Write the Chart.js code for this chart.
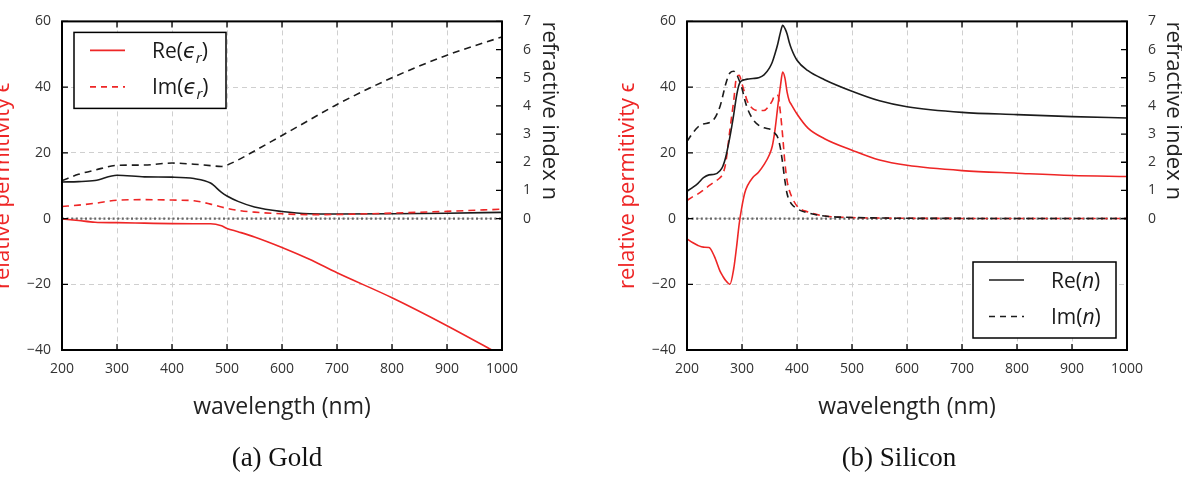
<!DOCTYPE html>
<html>
<head>
<meta charset="utf-8">
<script src="https://cdn.jsdelivr.net/npm/chart.js@4.4.1/dist/chart.umd.min.js"></script>
<style>
html, body { margin: 0; padding: 0; background: #fff; overflow: hidden; width: 1182px; height: 483px; }
canvas { position: absolute; top: 0; }
.cap { position: absolute; top: 442px; width: 300px; text-align: center; font: 27px 'Liberation Serif', serif; color: #111; }
</style>
</head>
<body>
<canvas id="gold" width="560" height="483" style="left:0"></canvas>
<canvas id="silicon" width="582" height="483" style="left:600px"></canvas>
<div class="cap" style="left:127px">(a) Gold</div>
<div class="cap" style="left:749px">(b) Silicon</div>
<script>
// gold (wavelength in nm)
var goldWl     = [200, 230, 260, 300, 350, 400, 440, 470, 490, 500, 520, 550, 600, 650, 700, 800, 900, 1000];
var goldReN    = [1.30, 1.31, 1.35, 1.54, 1.48, 1.47, 1.42, 1.26, 0.93, 0.80, 0.61, 0.41, 0.25, 0.17, 0.16, 0.17, 0.19, 0.22];
var goldImN    = [1.35, 1.57, 1.72, 1.89, 1.90, 1.97, 1.93, 1.88, 1.85, 1.90, 2.08, 2.40, 2.95, 3.50, 4.05, 5.00, 5.80, 6.45];
var goldReEps  = [-0.1, -0.6, -1.1, -1.25, -1.4, -1.55, -1.6, -1.6, -2.2, -3.0, -4.0, -5.6, -8.8, -12.4, -16.5, -24.1, -32.6, -41.7];
var goldImEps  = [3.66, 4.1, 4.64, 5.6, 5.75, 5.63, 5.4, 4.4, 3.5, 3.1, 2.5, 1.95, 1.45, 1.2, 1.25, 1.65, 2.2, 2.85];

// silicon
var siWl    = [200, 210, 220, 230, 240, 250, 260, 265, 270, 278, 285, 290, 295, 300, 305, 310, 320, 330, 340, 350,
               355, 360, 365, 370, 374, 378, 382, 386, 390, 400, 420, 450, 500, 550, 600, 700, 800, 900, 1000];
var siReN   = [0.97, 1.10, 1.25, 1.45, 1.55, 1.57, 1.70, 1.85, 2.15, 2.90, 3.70, 4.35, 4.78, 4.90, 4.93, 4.95, 4.97, 5.00, 5.10, 5.35,
               5.55, 5.85, 6.20, 6.62, 6.86, 6.75, 6.55, 6.25, 6.02, 5.62, 5.25, 4.93, 4.52, 4.18, 3.97, 3.77, 3.69, 3.62, 3.57];
var siImN   = [2.74, 3.02, 3.25, 3.36, 3.40, 3.55, 3.98, 4.35, 4.75, 5.17, 5.23, 5.12, 4.90, 4.62, 4.22, 3.90, 3.52, 3.32, 3.22, 3.18,
               3.14, 3.02, 2.88, 2.48, 1.95, 1.35, 0.88, 0.65, 0.52, 0.35, 0.20, 0.09, 0.04, 0.02, 0.01, 0.005, 0.003, 0.002, 0.001];
var siReEps = [-6.2, -7.3, -8.2, -8.7, -8.8, -11.6, -16.0, -17.5, -18.8, -20.0, -15.2, -8.8, -1.5, 3.8, 7.8, 10.0, 12.6, 14.1, 16.4, 19.5,
               22.0, 27.0, 34.0, 40.5, 44.6, 42.8, 38.5, 35.8, 34.6, 31.8, 27.5, 24.3, 20.8, 17.8, 16.2, 14.6, 13.8, 13.1, 12.8];
var siImEps = [5.5, 6.6, 7.5, 8.7, 10.0, 11.2, 12.4, 13.6, 16.5, 27.0, 36.0, 43.0, 43.6, 41.0, 38.2, 35.6, 33.4, 32.9, 32.9, 34.5,
               35.8, 37.6, 37.5, 32.0, 25.0, 17.0, 11.5, 8.6, 6.8, 3.8, 2.0, 0.8, 0.3, 0.15, 0.08, 0.04, 0.03, 0.02, 0.01];

var xTicks = { min: 200, max: 1000, step: 100 };
var epsRange = [-40, 60];
var nTop = 7;

var RED = '#ee2626';
var BLACK = '#1c1c1c';
Chart.defaults.font.family = "'Open Sans', sans-serif";

function pts(wl, vals) {
    return wl.map(function (w, i) { return { x: w, y: vals[i] }; });
}

function series(wl, vals, color, dashed, axis, legend) {
    return {
        data: pts(wl, vals),
        yAxisID: axis,
        borderColor: color,
        borderWidth: 1.6,
        borderDash: dashed ? [7, 5] : [],
        pointRadius: 0,
        cubicInterpolationMode: 'monotone',
        fill: false,
        legendText: legend
    };
}

function drawRich(ctx, parts, x, y) {
    parts.forEach(function (p) {
        var size = p.sub ? 15 : 21;
        ctx.font = (p.it ? 'italic ' : '') + size + "px 'Open Sans', 'DejaVu Sans', sans-serif";
        ctx.fillText(p.t, x, y + (p.sub ? 5 : 0));
        x += ctx.measureText(p.t).width;
    });
}

// frame, inward tick marks and the boxed legend inside the plot
var framePlugin = {
    id: 'frame',
    afterDraw: function (chart, args, opts) {
        var ctx = chart.ctx, a = chart.chartArea, s = chart.scales;
        ctx.save();
        ctx.strokeStyle = '#000';
        ctx.lineWidth = 1.3;
        ctx.beginPath();
        s.x.ticks.forEach(function (t) {
            var px = s.x.getPixelForValue(t.value);
            ctx.moveTo(px, a.bottom); ctx.lineTo(px, a.bottom - 6);
            ctx.moveTo(px, a.top); ctx.lineTo(px, a.top + 6);
        });
        s.y.ticks.forEach(function (t) {
            var py = s.y.getPixelForValue(t.value);
            ctx.moveTo(a.left, py); ctx.lineTo(a.left + 6, py);
        });
        s.y1.ticks.forEach(function (t) {
            var py = s.y1.getPixelForValue(t.value);
            ctx.moveTo(a.right, py); ctx.lineTo(a.right - 6, py);
        });
        ctx.stroke();
        ctx.lineWidth = 2;
        ctx.strokeRect(a.left, a.top, a.right - a.left, a.bottom - a.top);

        // legend
        var items = chart.data.datasets.filter(function (d) { return d.legendText; });
        var w = opts.boxW, h = 76;
        var bx = opts.corner === 'tl' ? a.left + 12 : a.right - 11 - w;
        var by = opts.corner === 'tl' ? a.top + 11 : a.bottom - 12 - h;
        ctx.fillStyle = '#fff';
        ctx.fillRect(bx, by, w, h);
        ctx.lineWidth = 1.5;
        ctx.strokeRect(bx, by, w, h);
        items.forEach(function (d, i) {
            var ry = by + 18 + i * 36.5;
            ctx.strokeStyle = d.borderColor;
            ctx.lineWidth = 1.6;
            ctx.setLineDash(d.borderDash.length ? [6, 5] : []);
            ctx.beginPath();
            ctx.moveTo(bx + 16, ry); ctx.lineTo(bx + 51, ry);
            ctx.stroke();
            ctx.setLineDash([]);
            ctx.fillStyle = '#1a1a1a';
            ctx.textBaseline = 'alphabetic';
            drawRich(ctx, d.legendText, bx + 78, ry + 7.5);
        });
        ctx.restore();
    }
};

function fmtMinus(v) {
    return v < 0 ? '\u2212' + Math.abs(v) : '' + v;
}

// leftW / rightW: widths of the two y-axis boxes; leftPad / rightPad: axis-title offsets
function makeChart(id, datasets, corner, boxW, leftW, rightW, leftPad, rightPad) {
    var zero = {
        data: [{ x: xTicks.min, y: 0 }, { x: xTicks.max, y: 0 }],
        yAxisID: 'y', borderColor: '#666', borderWidth: 2.2, borderDash: [2, 2.6], pointRadius: 0
    };
    return new Chart(document.getElementById(id), {
        type: 'line',
        data: { datasets: datasets.concat([zero]) },
        options: {
            responsive: false,
            animation: false,
            devicePixelRatio: 1,
            layout: { padding: { top: 14, left: 0, right: 0, bottom: 0 } },
            plugins: {
                legend: { display: false },
                tooltip: { enabled: false },
                frame: { corner: corner, boxW: boxW }
            },
            scales: {
                x: {
                    type: 'linear',
                    min: xTicks.min, max: xTicks.max,
                    ticks: { stepSize: xTicks.step, color: '#333', font: { size: 14 }, padding: 11,
                             callback: function (v) { return '' + v; } },
                    grid: { color: '#cfcfcf', lineWidth: 1, drawTicks: false },
                    border: { display: false, dash: [5, 4] },
                    title: { display: true, text: 'wavelength (nm)', color: '#222', font: { size: 23 }, padding: { top: 0, bottom: 62 } },
                    afterFit: function (s) { s.height = 133; }
                },
                y: {
                    position: 'left',
                    min: epsRange[0], max: epsRange[1],
                    ticks: { stepSize: 20, color: '#333', font: { size: 14 }, padding: 11, callback: fmtMinus },
                    grid: { color: '#cfcfcf', lineWidth: 1, drawTicks: false },
                    border: { display: false, dash: [5, 4] },
                    title: { display: true, text: 'relative permitivity \u03f5', color: RED, font: { size: 22 }, padding: { top: leftPad, bottom: 0 } },
                    afterFit: function (s) { s.width = leftW; }
                },
                y1: {
                    position: 'right',
                    min: epsRange[0] * nTop / epsRange[1], max: nTop,
                    ticks: { stepSize: 1, color: '#333', font: { size: 14 }, padding: 13 },
                    grid: { display: false },
                    border: { display: false },
                    title: { display: true, text: 'refractive index n', align: 'end', color: '#222', font: { size: 22 }, padding: { top: rightPad, bottom: 0 } },
                    afterBuildTicks: function (s) {
                        s.ticks = s.ticks.filter(function (t) {
                            return t.value >= 0 && Math.abs(t.value - Math.round(t.value)) < 1e-6;
                        });
                    },
                    afterFit: function (s) { s.width = rightW; }
                }
            }
        },
        plugins: [framePlugin]
    });
}

makeChart('gold', [
    series(goldWl, goldReEps, RED, false, 'y', [{ t: 'Re(' }, { t: '\u03f5', it: true }, { t: 'r', it: true, sub: true }, { t: ')' }]),
    series(goldWl, goldImEps, RED, true, 'y', [{ t: 'Im(' }, { t: '\u03f5', it: true }, { t: 'r', it: true, sub: true }, { t: ')' }]),
    series(goldWl, goldReN, BLACK, false, 'y1'),
    series(goldWl, goldImN, BLACK, true, 'y1')
], 'tl', 152, 62, 58, -10, -2);

makeChart('silicon', [
    series(siWl, siReN, BLACK, false, 'y1', [{ t: 'Re(' }, { t: 'n', it: true }, { t: ')' }]),
    series(siWl, siImN, BLACK, true, 'y1', [{ t: 'Im(' }, { t: 'n', it: true }, { t: ')' }]),
    series(siWl, siReEps, RED, false, 'y'),
    series(siWl, siImEps, RED, true, 'y')
], 'br', 143, 87, 55, 15, -4);
</script>
</body>
</html>
